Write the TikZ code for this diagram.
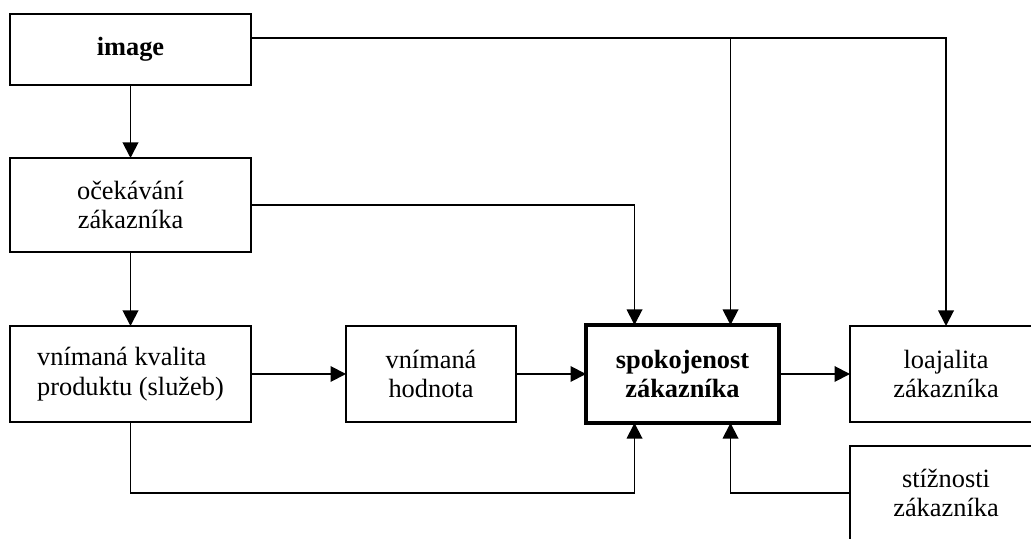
\documentclass[tikz,border=0pt]{standalone}
\usepackage{fontspec}
\setmainfont{Liberation Serif}
\usetikzlibrary{arrows.meta,positioning,calc}

\begin{document}
\begin{tikzpicture}[
    node distance=1.4cm,
    box/.style={rectangle, draw=black, line width=1.1pt, inner sep=0pt, outer sep=0pt, minimum width=4.82cm, minimum height=1.9cm, align=center, font=\fontsize{15}{17}\selectfont},
    mainbox/.style={box, line width=2.5pt, minimum width=3.86cm, minimum height=1.96cm, font=\fontsize{15}{17}\selectfont\bfseries},
    arrow/.style={-{Triangle[length=0.31cm, width=0.31cm]}, line width=1.1pt}
]
\useasboundingbox (0,0) rectangle (20.62,-10.78);
\clip (0,0) rectangle (20.62,-10.78);

% Left column
\node[box, minimum height=1.42cm, font=\fontsize{15}{17}\selectfont\bfseries] (img) at (2.61,-0.99) {image};
\node[box, minimum height=1.88cm, below=1.46cm of img] (exp) {očekávání\\zákazníka};
\node[box, minimum height=1.92cm, below=1.48cm of exp, align=left] (qual) {vnímaná kvalita\\produktu (služeb)};

% Middle row
\node[box, minimum width=3.4cm, minimum height=1.92cm, right=1.9cm of qual] (val) {vnímaná\\hodnota};
\node[mainbox, right=1.4cm of val] (sat) {spokojenost\\zákazníka};
\node[box, minimum width=3.84cm, minimum height=1.92cm, right=1.42cm of sat] (loy) {loajalita\\zákazníka};
\node[box, minimum width=3.84cm, minimum height=1.88cm, below=0.48cm of loy] (comp) {stížnosti\\zákazníka};

% Helper coordinates
\coordinate (imgout) at ($(img.north east)!0.34!(img.south east)$);
\coordinate (satTL) at ($(sat.north)+(-0.96,0)$);
\coordinate (satTR) at ($(sat.north)+(0.96,0)$);
\coordinate (satBL) at ($(sat.south)+(-0.96,0)$);
\coordinate (satBR) at ($(sat.south)+(0.96,0)$);

% Arrows
\draw[arrow] (img) -- (exp);
\draw[arrow] (exp) -- (qual);
\draw[arrow] (qual) -- (val);
\draw[arrow] (val) -- (sat);
\draw[arrow] (sat) -- (loy);
\draw[arrow] (imgout) -| (loy.north);
\draw[arrow] (satTR |- imgout) -- (satTR);
\draw[arrow] (exp.east) -| (satTL);
\draw[arrow] (qual.south) |- (satBL |- comp.west) -- (satBL);
\draw[arrow] (comp.west) -| (satBR);

\end{tikzpicture}
\end{document}
